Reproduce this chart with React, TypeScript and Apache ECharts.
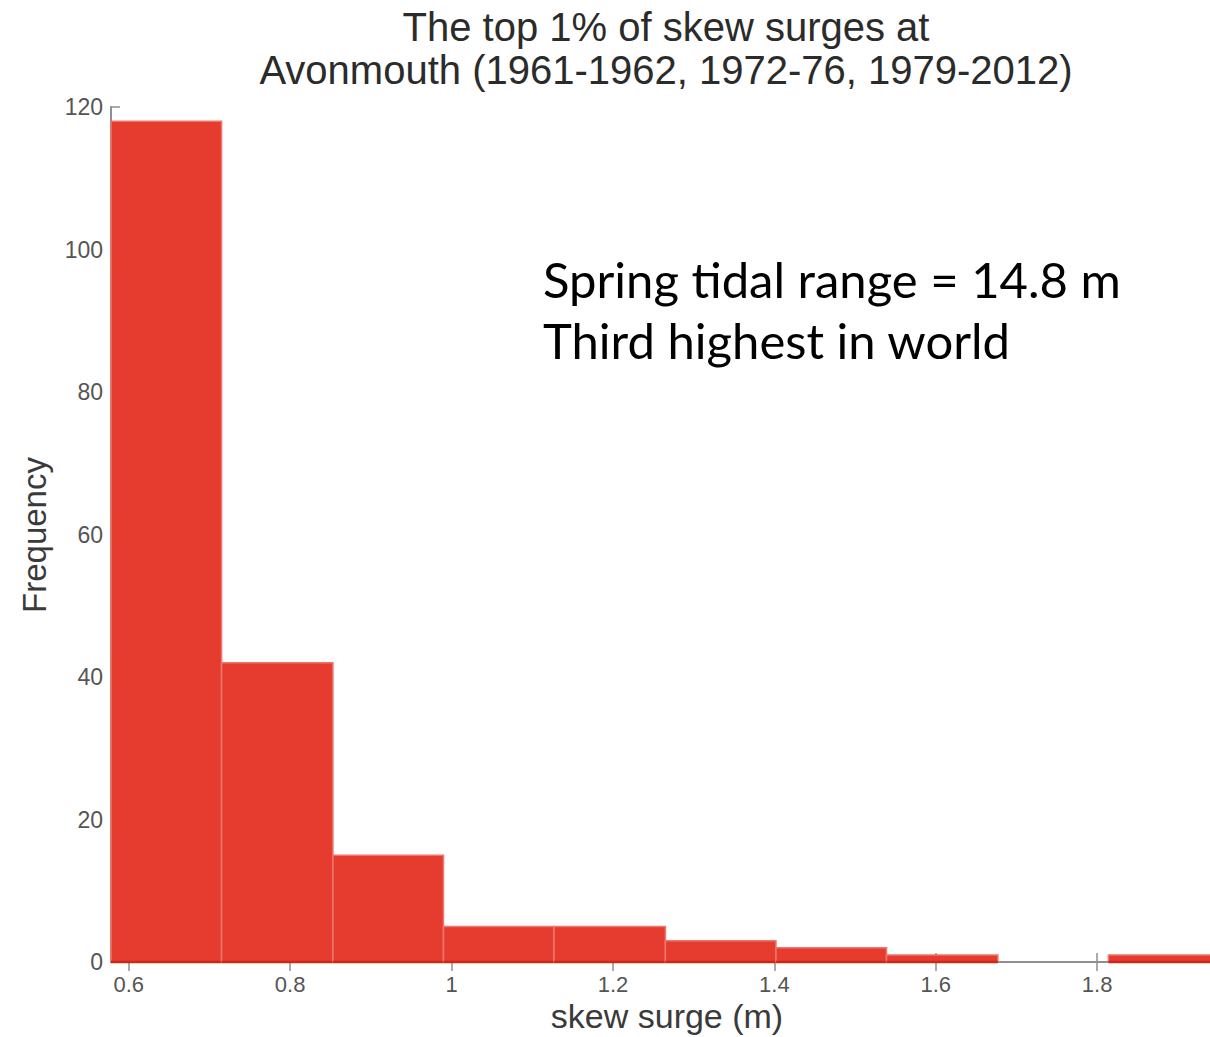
import React, { useEffect, useRef } from "react";
import * as echarts from "echarts";

// Histogram bin edges (skew surge, m) and frequencies
const binEdges = [0.578, 0.715, 0.853, 0.99, 1.127, 1.265, 1.402, 1.539, 1.677, 1.814, 1.951];
const frequencies = [118, 42, 15, 5, 5, 3, 2, 1, 0, 1];
const xTickValues = [0.6, 0.8, 1, 1.2, 1.4, 1.6, 1.8];
const yTickValues = [0, 20, 40, 60, 80, 100, 120];
const titleLines = ["The top 1% of skew surges at", "Avonmouth (1961-1962, 1972-76, 1979-2012)"];
const noteLines = ["Spring tidal range = 14.8 m", "Third highest in world"];
const xAxisName = "skew surge (m)";
const yAxisName = "Frequency";

const AXIS_COLOR = "#8f8f8f";
const LABEL_COLOR = "#555555";
const BAR_COLOR = "#e53c2f";
const FONT = "'Liberation Sans', Arial, sans-serif";

export default function App() {
  const ref = useRef<HTMLDivElement>(null);

  useEffect(() => {
    if (!ref.current) return;
    const chart = echarts.init(ref.current, undefined, { renderer: "svg" });
    const data = frequencies.map((f, i) => [binEdges[i], binEdges[i + 1], f]);
    const xMin = binEdges[0];
    const xMax = binEdges[binEdges.length - 1];

    const axisLine = { show: true, lineStyle: { color: AXIS_COLOR, width: 2 } };
    const tick = { show: true, inside: true, length: 9, lineStyle: { color: AXIS_COLOR, width: 1.5 } };

    chart.setOption({
      animation: false,
      backgroundColor: "#ffffff",
      grid: { left: 111, top: 107, width: 1108, height: 855, containLabel: false, show: false },
      xAxis: [
        {
          type: "value",
          position: "bottom",
          min: xMin,
          max: xMax,
          axisLine,
          axisTick: { ...tick, customValues: xTickValues },
          splitLine: { show: false },
          axisLabel: {
            customValues: xTickValues,
            color: LABEL_COLOR,
            fontFamily: FONT,
            fontSize: 22,
            margin: 11,
            formatter: (v: number) => String(Math.round(v * 10) / 10),
          },
        },
        {
          type: "value",
          position: "top",
          min: xMin,
          max: xMax,
          axisLine,
          axisTick: { ...tick, customValues: xTickValues },
          splitLine: { show: false },
          axisLabel: { show: false },
        },
      ],
      yAxis: [
        {
          type: "value",
          position: "left",
          min: 0,
          max: 120,
          interval: 20,
          axisLine,
          axisTick: tick,
          splitLine: { show: false },
          axisLabel: {
            customValues: yTickValues,
            color: LABEL_COLOR,
            fontFamily: FONT,
            fontSize: 23,
            margin: 8,
          },
        },
        {
          type: "value",
          position: "right",
          min: 0,
          max: 120,
          interval: 20,
          axisLine,
          axisTick: tick,
          splitLine: { show: false },
          axisLabel: { show: false },
        },
      ],
      series: [
        {
          type: "custom",
          xAxisIndex: 0,
          yAxisIndex: 0,
          z: 5,
          encode: { x: [0, 1], y: 2 },
          data,
          renderItem: (params: any, api: any) => {
            const x0 = api.value(0);
            const x1 = api.value(1);
            const f = api.value(2);
            if (!f) return null;
            const pTop = api.coord([x0, f]);
            const pBot = api.coord([x1, 0]);
            return {
              type: "group",
              children: [
                {
                  type: "rect",
                  shape: { x: pTop[0], y: pTop[1], width: pBot[0] - pTop[0], height: pBot[1] - pTop[1] },
                  style: { fill: BAR_COLOR, stroke: "#ee766c", lineWidth: 1.5 },
                },
                {
                  type: "line",
                  shape: { x1: pTop[0], y1: pBot[1], x2: pBot[0], y2: pBot[1] },
                  style: { stroke: "#c9261c", lineWidth: 2.5 },
                },
              ],
            };
          },
        },
      ],
      graphic: [
        {
          type: "text",
          x: 666,
          y: 27,
          style: { text: titleLines[0], font: `40px ${FONT}`, fill: "#2b2b2b", align: "center", verticalAlign: "middle" },
        },
        {
          type: "text",
          x: 666,
          y: 70,
          style: { text: titleLines[1], font: `40px ${FONT}`, fill: "#2b2b2b", align: "center", verticalAlign: "middle" },
        },
        {
          type: "text",
          x: 34,
          y: 535,
          rotation: Math.PI / 2,
          style: { text: yAxisName, font: `33px ${FONT}`, fill: "#3a3a3a", align: "center", verticalAlign: "middle" },
        },
        {
          type: "text",
          x: 667,
          y: 1016,
          style: { text: xAxisName, font: `34px ${FONT}`, fill: "#3a3a3a", align: "center", verticalAlign: "middle" },
        },
        {
          type: "text",
          x: 543,
          y: 279,
          z: 10,
          style: { text: noteLines[0], font: `49px Lato, 'Noto Sans', sans-serif`, fill: "#000000", align: "left", verticalAlign: "middle" },
        },
        {
          type: "text",
          x: 543,
          y: 340,
          z: 10,
          style: { text: noteLines[1], font: `49px Lato, 'Noto Sans', sans-serif`, fill: "#000000", align: "left", verticalAlign: "middle" },
        },
      ],
    });

    return () => chart.dispose();
  }, []);

  return (
    <div style={{ position: "absolute", left: 0, top: 0, width: 1210, height: 1037, overflow: "hidden", background: "#fff" }}>
      <div ref={ref} style={{ width: 1224, height: 1037 }} />
    </div>
  );
}
